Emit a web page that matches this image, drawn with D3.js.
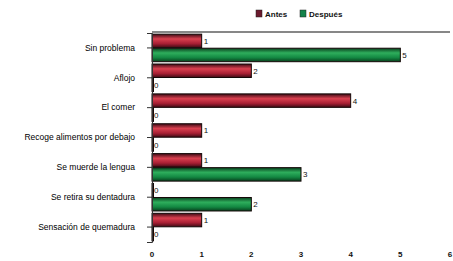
<!DOCTYPE html>
<html>
<head>
<meta charset="utf-8">
<script src="https://cdn.jsdelivr.net/npm/d3@7"></script>
<style>
  body { margin: 0; background: #fff; }
  svg { display: block; font-family: "Liberation Sans", Arial, sans-serif; }
</style>
</head>
<body>
<div class="chart"></div>
<script>
// categories, top to bottom
const categories = ["Sin problema", "Aflojo", "El comer", "Recoge alimentos por debajo",
  "Se muerde la lengua", "Se retira su dentadura", "Sensación de quemadura"];
const series = ["Antes", "Después"];
const antes = [1, 2, 4, 1, 1, 0, 1];
const despues = [5, 0, 0, 0, 3, 2, 0];
const xTicks = [0, 1, 2, 3, 4, 5, 6];

const width = 453, height = 261;
const plot = {left: 152, right: 450, top: 33, bottom: 242};

const svg = d3.select(".chart").append("svg")
  .attr("width", width)
  .attr("height", height);

const defs = svg.append("defs");
function cyl(id, dark, mid, light) {
  const g = defs.append("linearGradient").attr("id", id)
    .attr("x1", 0).attr("y1", 0).attr("x2", 0).attr("y2", 1);
  g.append("stop").attr("offset", "0%").attr("stop-color", dark);
  g.append("stop").attr("offset", "35%").attr("stop-color", light);
  g.append("stop").attr("offset", "70%").attr("stop-color", mid);
  g.append("stop").attr("offset", "100%").attr("stop-color", dark);
}
cyl("gRed", "#3e0a14", "#a81f34", "#d9404f");
cyl("gGreen", "#083f1d", "#138842", "#2eae5c");

const x = d3.scaleLinear().domain([0, 6]).range([plot.left, plot.right]);
const y = d3.scaleBand().domain(categories).range([plot.top, plot.bottom]).paddingInner(0.04).paddingOuter(0.02);
const ys = d3.scaleBand().domain(series).range([0, y.bandwidth()]).padding(0.04);

const color = {"Antes": "url(#gRed)", "Después": "url(#gGreen)"};
const swatch = {"Antes": "#6b1a2e", "Después": "#13824a"};

// top border line
svg.append("line")
  .attr("x1", plot.left).attr("x2", plot.right)
  .attr("y1", plot.top - 1).attr("y2", plot.top - 1)
  .attr("stroke", "#111").attr("stroke-width", 1.2);

const rows = categories.map((c, i) => ({cat: c, vals: [
  {key: "Antes", value: antes[i]}, {key: "Después", value: despues[i]}]}));

const g = svg.selectAll("g.row").data(rows).enter().append("g")
  .attr("class", "row")
  .attr("transform", d => "translate(0," + y(d.cat) + ")");

g.selectAll("rect").data(d => d.vals).enter().append("rect")
  .attr("x", x(0))
  .attr("y", d => ys(d.key))
  .attr("width", d => Math.max(x(d.value) - x(0), 1.5))
  .attr("height", ys.bandwidth())
  .attr("fill", d => color[d.key])
  .attr("stroke", "#150808")
  .attr("stroke-width", 1);

g.selectAll("text").data(d => d.vals).enter().append("text")
  .attr("x", d => x(d.value) + 2)
  .attr("y", d => ys(d.key) + ys.bandwidth() / 2 + 3)
  .attr("font-size", 8)
  .attr("fill", "#111")
  .text(d => d.value);

// y axis
const yAxis = svg.append("g")
  .attr("transform", "translate(" + plot.left + ",0)")
  .call(d3.axisLeft(y).tickSize(5).tickPadding(12));
yAxis.select(".domain").attr("stroke", "#333");
yAxis.selectAll("line").attr("stroke", "#333");
yAxis.selectAll("text").attr("font-size", 8.5).attr("fill", "#000")
  .attr("font-family", "'Liberation Sans', Arial, sans-serif");

// x tick labels (no axis line)
svg.append("g").selectAll("text").data(xTicks).enter().append("text")
  .attr("x", d => x(d))
  .attr("y", 257)
  .attr("text-anchor", "middle")
  .attr("font-size", 8)
  .attr("font-weight", "bold")
  .attr("fill", "#111")
  .text(d => d);

// legend
const legend = svg.append("g").attr("transform", "translate(256,10)");
const li = legend.selectAll("g").data(series).enter().append("g")
  .attr("transform", (d, i) => "translate(" + (i * 44) + ",0)");
li.append("rect").attr("width", 6).attr("height", 7)
  .attr("fill", d => swatch[d]).attr("stroke", "#222").attr("stroke-width", 0.5);
li.append("text").attr("x", 9).attr("y", 7)
  .attr("font-size", 8).attr("font-weight", "bold").attr("fill", "#111")
  .text(d => d);
</script>
</body>
</html>
